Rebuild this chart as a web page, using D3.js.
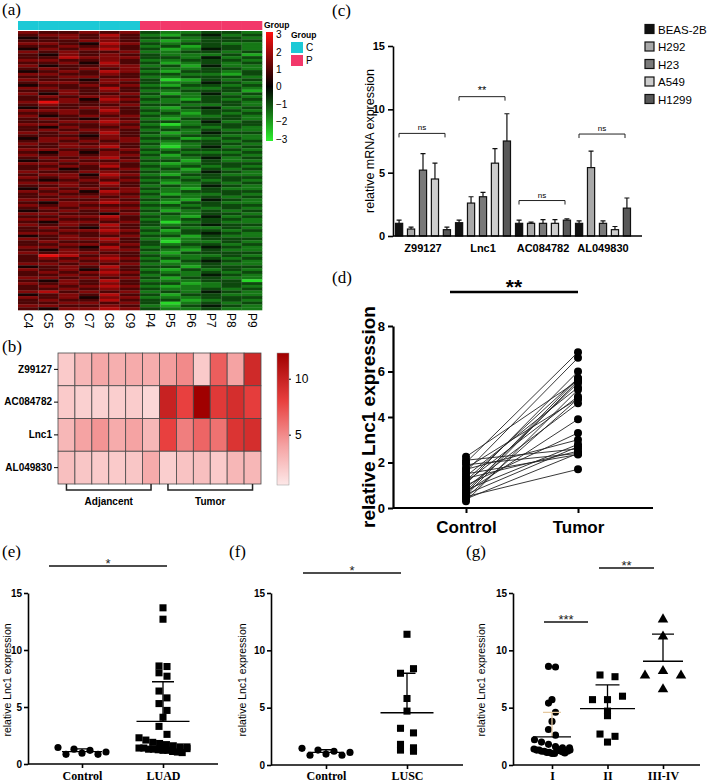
<!DOCTYPE html>
<html>
<head>
<meta charset="utf-8">
<script src="https://cdn.jsdelivr.net/npm/d3@7"></script>
<style>
  body { margin: 0; background: #fff; }
  svg { display: block; font-family: "Liberation Sans", Arial, sans-serif; }
  .plab { font-family: "Liberation Serif", "Times New Roman", serif; font-size: 17px; }
  .serif { font-family: "Liberation Serif", "Times New Roman", serif; font-weight: bold; }
</style>
</head>
<body>
<div id="fig"></div>
<script>
// ---- (a) heatmap data: each row a string of 12 level digits (see heatLevels)
const heatCols = ["C4", "C5", "C6", "C7", "C8", "C9", "P4", "P5", "P6", "P7", "P8", "P9"];
const heatGroups = ["C", "C", "C", "C", "C", "C", "P", "P", "P", "P", "P", "P"];
const heatLevels = [-2.7, -2.1, -1.5, -0.9, -0.3, 0.3, 0.9, 1.5, 2.1, 2.7];
const heatRows = [
  "766767322332", "677686213423", "567676332332", "666776212333", "776587323322",
  "667676231332", "576786312432", "767667223323", "657676322231", "668777332423",
  "776676223332", "667586312323", "756677231422", "676767322332", "567687213323",
  "776676332213", "667766223332", "766577301323", "677676322432", "566767213323",
  "776686332232", "667676223331", "757667312423", "676776232332", "667587321323",
  "797676223332", "676667332232", "566776213423", "777686322332", "667676231323",
  "756767322232", "676576213332", "667787332423", "776676202333", "657667323232",
  "676776232322", "767686312433", "666576223322", "577677331232", "676767223323",
  "767676312332", "667786202423", "776667323332", "657576232223", "767677313332",
  "676786222423", "567667331322", "776776212333", "667686323232", "675667231323",
  "766776322432", "677587213322", "767676332333", "656767223232", "777686312323",
  "667676232432", "576767321322", "767587223333", "676676312232", "667767232323",
  "776676321432", "657787213322", "767666332333", "676777223232", "567676312323",
  "776657232332", "667786321423", "776676223332", "657767302322", "767686323433",
  "676576232232", "667787313323", "776676223432", "567667331322", "767786212333",
  "676676302232", "667767323323", "776586232432", "657677321322", "767766213333",
  "698676322232", "676787232323", "667676313432", "776767222322", "567686331333",
  "767576213232", "676787322323", "667676232432", "776767313322", "657686222330",
  "767676331233", "676787212232", "667676322323", "786767232432", "567686313322",
  "767577222333", "676686331232", "667767302323", "776676213432", "657787322322"
];
const groupColor = { C: "#1cc9d6", P: "#f2386a" };
const heatLegendTicks = [3, 2, 1, 0, -1, -2, -3];

// ---- (b) tissue heatmap
const genes = ["Z99127", "AC084782", "Lnc1", "AL049830"];
const tissueGroups = ["Adjancent", "Tumor"];
const tissueValues = [
  [2.0, 3.0, 3.8, 3.4, 3.6, 3.5, 4.2, 5.0, 2.0, 6.8, 4.0, 9.5],
  [2.0, 1.7, 1.6, 1.8, 1.9, 1.4, 10.0, 8.0, 12.3, 8.5, 9.2, 8.2],
  [3.0, 4.0, 4.6, 3.6, 4.0, 3.0, 8.0, 5.5, 6.5, 6.0, 8.8, 9.2],
  [2.6, 2.2, 2.0, 2.0, 2.2, 3.6, 1.8, 2.4, 2.6, 2.0, 3.0, 3.0]
];
const tissueTicks = [5, 10];

// ---- (c) bar chart
const cellLines = ["BEAS-2B", "H292", "H23", "A549", "H1299"];
const barGenes = ["Z99127", "Lnc1", "AC084782", "AL049830"];
const barMeans = [
  [1.0, 0.55, 5.2, 4.5, 0.5],
  [1.05, 2.6, 3.1, 5.75, 7.5],
  [1.0, 1.0, 1.0, 1.0, 1.25],
  [1.0, 5.4, 1.0, 0.5, 2.2]
];
const barErrors = [
  [0.25, 0.15, 1.3, 1.25, 0.2],
  [0.2, 0.5, 0.35, 1.15, 2.15],
  [0.25, 0.1, 0.3, 0.3, 0.1],
  [0.2, 1.3, 0.2, 0.25, 0.8]
];
const barSigText = ["ns", "**", "ns", "ns"];
const barSigLevel = [8.1, 11.0, 2.8, 8.05];
const barTicks = [0, 5, 10, 15];

// ---- (d) paired samples
const pairCats = ["Control", "Tumor"];
const pairControl = [2.25, 2.1, 2.0, 1.9, 1.75, 1.7, 1.6, 1.5, 1.4, 1.3, 1.2, 1.15, 1.05,
                     1.0, 0.9, 0.8, 0.75, 0.7, 0.65, 0.6, 0.55, 0.5, 0.45, 0.4, 0.3];
const pairTumor = [5.6, 2.6, 6.85, 2.4, 4.8, 3.0, 6.6, 2.35, 5.3, 2.5, 5.7, 4.9, 6.0,
                   3.3, 4.6, 2.8, 5.5, 3.9, 5.7, 2.7, 5.6, 1.7, 4.8, 2.4, 5.2];
const pairTicks = [0, 2, 4, 6, 8];

// ---- (e) (f) (g) scatter dot plots
const eCats = ["Control", "LUAD"];
const eControl = [1.45, 0.85, 1.3, 0.95, 1.2, 0.85, 1.05];
const eLUAD = [13.7, 12.7, 8.6, 8.55, 8.0, 7.7, 6.4, 5.8, 5.3, 4.7, 4.1, 3.3, 2.6, 2.3, 2.1, 1.9,
               1.8, 1.7, 1.6, 1.5, 1.5, 1.4, 1.4, 1.3, 1.3, 1.25, 1.2, 1.2, 1.1, 1.05, 1.0, 1.35];
const fCats = ["Control", "LUSC"];
const fControl = [1.45, 0.85, 1.3, 0.95, 1.2, 0.85, 1.1];
const fLUSC = [11.4, 8.0, 8.4, 5.8, 4.7, 3.2, 2.8, 1.8, 1.5, 1.3, 1.2];
const gCats = ["I", "II", "III-IV"];
const gStageI = [8.6, 8.55, 5.7, 5.4, 4.6, 3.8, 3.1, 2.6, 2.2, 2.0, 1.8, 1.6, 1.5, 1.5, 1.4,
                 1.3, 1.3, 1.2, 1.2, 1.1, 1.1, 1.0, 1.0, 1.4, 1.25, 1.15, 1.05, 1.2, 1.3];
const gStageII = [7.85, 7.7, 5.7, 5.7, 6.0, 4.7, 4.3, 2.7, 2.5, 2.0];
const gStageIII = [12.7, 11.2, 7.8, 8.2, 7.8, 6.6];
const dotTicks = [0, 5, 10, 15];

const W = 709, H = 784;
const svg = d3.select("#fig").append("svg").attr("width", W).attr("height", H);
svg.append("rect").attr("width", W).attr("height", H).attr("fill", "#fff");
const defs = svg.append("defs");

function panelLabel(t, x, y) {
  svg.append("text").attr("class", "plab").attr("x", x).attr("y", y).text(t);
}

// ================= (a)
function panelA() {
  const g = svg.append("g");
  const x = d3.scaleBand().domain(heatCols).range([18, 262]);
  const y = d3.scaleBand().domain(d3.range(heatRows.length)).range([31, 310]);
  const color = d3.scaleLinear().domain([-3, 0, 3]).range(["#2cf02c", "#000000", "#ff1010"]).clamp(true);

  const cells = [];
  heatRows.forEach((row, r) => row.split("").forEach((ch, c) => {
    cells.push({ r: r, col: heatCols[c], v: heatLevels[+ch] });
  }));
  g.selectAll("rect.cell").data(cells).join("rect").attr("class", "cell")
    .attr("x", d => x(d.col)).attr("y", d => y(d.r))
    .attr("width", x.bandwidth() + 0.3).attr("height", y.bandwidth() + 0.3)
    .attr("fill", d => color(d.v));
  g.selectAll("line.sep").data(heatCols.slice(1)).join("line").attr("class", "sep")
    .attr("x1", d => x(d)).attr("x2", d => x(d)).attr("y1", 31).attr("y2", 310)
    .attr("stroke", "#999").attr("stroke-opacity", 0.35).attr("stroke-width", 0.7);

  // group annotation bar
  g.selectAll("rect.grp").data(heatCols).join("rect").attr("class", "grp")
    .attr("x", d => x(d)).attr("y", 21).attr("width", x.bandwidth() + 0.3).attr("height", 9)
    .attr("fill", (d, i) => groupColor[heatGroups[i]]);
  g.append("text").attr("x", 264).attr("y", 28).attr("font-size", 8.5).attr("font-weight", "bold").text("Group");

  // column labels
  g.selectAll("text.col").data(heatCols).join("text").attr("class", "col")
    .attr("transform", d => `translate(${x(d) + x.bandwidth() / 2},313) rotate(90)`)
    .attr("dy", "0.35em").attr("font-size", 12).text(d => d);

  // colour legend
  const grad = defs.append("linearGradient").attr("id", "gradA")
    .attr("x1", 0).attr("x2", 0).attr("y1", 0).attr("y2", 1);
  [3, 1.5, 0, -1.5, -3].forEach(v => {
    grad.append("stop").attr("offset", (3 - v) / 6).attr("stop-color", color(v));
  });
  const ly = d3.scaleLinear().domain([-3, 3]).range([139, 34.5]);
  g.append("rect").attr("x", 266).attr("y", 32).attr("width", 7).attr("height", 109).attr("fill", "url(#gradA)");
  const lax = g.append("g").attr("transform", "translate(273,0)")
    .call(d3.axisRight(ly).tickValues(heatLegendTicks).tickFormat(d3.format("d")).tickSize(0).tickPadding(3));
  lax.select(".domain").remove();
  lax.selectAll("text").attr("font-size", 10).attr("font-family", "Liberation Sans, Arial");

  // group legend
  g.append("text").attr("x", 291).attr("y", 38).attr("font-size", 8.5).attr("font-weight", "bold").text("Group");
  const gk = ["C", "P"];
  g.selectAll("rect.gk").data(gk).join("rect").attr("class", "gk")
    .attr("x", 291).attr("y", (d, i) => 42 + i * 13).attr("width", 12).attr("height", 11)
    .attr("fill", d => groupColor[d]);
  g.selectAll("text.gk").data(gk).join("text").attr("class", "gk")
    .attr("x", 306).attr("y", (d, i) => 51 + i * 13).attr("font-size", 10).text(d => d);
}

// ================= (b)
function panelB() {
  const g = svg.append("g");
  const x = d3.scaleBand().domain(d3.range(12)).range([58, 261]);
  const y = d3.scaleBand().domain(genes).range([353, 484]);
  const stops = [0.5, 4, 8, 12.3];
  const color = d3.scaleLinear().domain(stops).range(["#fde8e8", "#f5a3a3", "#e8403f", "#a00000"]);

  const cells = [];
  tissueValues.forEach((row, r) => row.forEach((v, c) => cells.push({ gene: genes[r], c: c, v: v })));
  g.selectAll("rect.cell").data(cells).join("rect").attr("class", "cell")
    .attr("x", d => x(d.c)).attr("y", d => y(d.gene))
    .attr("width", x.bandwidth()).attr("height", y.bandwidth())
    .attr("fill", d => color(d.v)).attr("stroke", "#4a4a4a").attr("stroke-width", 0.8);

  const ax = g.append("g").attr("transform", "translate(58,0)")
    .call(d3.axisLeft(y).tickSize(4).tickPadding(2));
  ax.select(".domain").remove();
  ax.selectAll("text").attr("font-size", 10).attr("font-weight", "bold").attr("font-family", "Liberation Sans, Arial");

  // group brackets
  tissueGroups.forEach((name, i) => {
    const x1 = x(i * 6) + x.bandwidth() / 2, x2 = x(i * 6 + 5) + x.bandwidth() / 2;
    g.append("path").attr("d", `M${x1},484V490H${x2}V484`).attr("fill", "none")
      .attr("stroke", "#222").attr("stroke-width", 1.5);
    g.append("text").attr("x", (x1 + x2) / 2).attr("y", 505).attr("text-anchor", "middle")
      .attr("font-size", 10).attr("font-weight", "bold").text(name);
  });

  // colour bar
  const grad = defs.append("linearGradient").attr("id", "gradB")
    .attr("x1", 0).attr("x2", 0).attr("y1", 1).attr("y2", 0);
  stops.forEach(v => grad.append("stop").attr("offset", (v - 0.5) / 11.8).attr("stop-color", color(v)));
  const ly = d3.scaleLinear().domain([0.5, 12.3]).range([485, 353]);
  g.append("rect").attr("x", 277).attr("y", 353).attr("width", 12).attr("height", 132)
    .attr("fill", "url(#gradB)").attr("stroke", "#999").attr("stroke-width", 0.5);
  const lax = g.append("g").attr("transform", "translate(289,0)")
    .call(d3.axisRight(ly).tickValues(tissueTicks).tickSize(2).tickPadding(4));
  lax.select(".domain").remove();
  lax.selectAll("text").attr("font-size", 12).attr("font-family", "Liberation Sans, Arial");
}

// ================= (c)
function panelC() {
  const g = svg.append("g");
  const x0 = d3.scaleBand().domain(barGenes).range([393, 633]);
  const x1 = d3.scaleBand().domain(cellLines).range([2.5, 57.5]).paddingInner(0.4);
  const y = d3.scaleLinear().domain([0, 15]).range([236, 46]);
  const fills = d3.scaleOrdinal().domain(cellLines).range(["#111111", "#a8a8a8", "#7a7a7a", "#cdcdcd", "#585858"]);

  const bars = [];
  barGenes.forEach((gene, i) => cellLines.forEach((c, j) => {
    bars.push({ gene: gene, line: c, m: barMeans[i][j], e: barErrors[i][j] });
  }));
  const bx = d => x0(d.gene) + x1(d.line);
  // error bars (upper)
  g.selectAll("path.err").data(bars).join("path").attr("class", "err")
    .attr("d", d => {
      const cx = bx(d) + x1.bandwidth() / 2;
      return `M${cx},${y(d.m)}V${y(d.m + d.e)}M${cx - 2.5},${y(d.m + d.e)}H${cx + 2.5}`;
    })
    .attr("stroke", "#111").attr("stroke-width", 1.2).attr("fill", "none");
  g.selectAll("rect.bar").data(bars).join("rect").attr("class", "bar")
    .attr("x", bx).attr("y", d => y(d.m))
    .attr("width", x1.bandwidth()).attr("height", d => y(0) - y(d.m))
    .attr("fill", d => fills(d.line)).attr("stroke", "#111").attr("stroke-width", 1.2);

  // axes
  const ay = g.append("g").attr("transform", "translate(393,0)")
    .call(d3.axisLeft(y).tickValues(barTicks).tickSize(5).tickSizeOuter(0));
  ay.select(".domain").attr("stroke-width", 1.6);
  ay.selectAll("line").attr("stroke-width", 1.6);
  ay.selectAll("text").attr("font-size", 11).attr("font-weight", "bold").attr("font-family", "Liberation Sans, Arial");
  g.append("line").attr("x1", 393).attr("x2", 642).attr("y1", y(0)).attr("y2", y(0))
    .attr("stroke", "#000").attr("stroke-width", 1.6);
  g.selectAll("text.grp").data(barGenes).join("text").attr("class", "grp")
    .attr("x", d => x0(d) + x0.bandwidth() / 2).attr("y", 252).attr("text-anchor", "middle")
    .attr("font-size", 11).attr("font-weight", "bold").text(d => d);
  g.append("text").attr("transform", "translate(374,141) rotate(-90)").attr("text-anchor", "middle")
    .attr("font-size", 12.5).text("relative mRNA expression");

  // significance brackets
  barGenes.forEach((gene, i) => {
    const c = x0(gene) + x0.bandwidth() / 2;
    const yy = y(barSigLevel[i]);
    g.append("path").attr("d", `M${c - 24},${yy + 4}V${yy}H${c + 22}V${yy + 4}`)
      .attr("fill", "none").attr("stroke", "#222").attr("stroke-width", 1);
    g.append("text").attr("x", c - 1).attr("y", yy - 3).attr("text-anchor", "middle")
      .attr("font-size", barSigText[i] === "ns" ? 8 : 11).attr("fill", "#000").text(barSigText[i]);
  });

  // legend
  const lg = g.selectAll("g.leg").data(cellLines).join("g").attr("class", "leg")
    .attr("transform", (d, i) => `translate(645,${29 + i * 17.5})`);
  lg.append("rect").attr("x", 0).attr("y", -4.5).attr("width", 9).attr("height", 9)
    .attr("fill", d => fills(d)).attr("stroke", "#111").attr("stroke-width", 1.2);
  lg.append("text").attr("x", 13).attr("y", 4.5).attr("font-size", 11.5).text(d => d);
}

// ================= (d)
function panelD() {
  const g = svg.append("g");
  const x = d3.scalePoint().domain(pairCats).range([466, 578]);
  const y = d3.scaleLinear().domain([0, 8]).range([508, 326]);
  const pairs = pairControl.map((c, i) => [c, pairTumor[i]]);

  g.selectAll("line.pair").data(pairs).join("line").attr("class", "pair")
    .attr("x1", x("Control")).attr("x2", x("Tumor"))
    .attr("y1", d => y(d[0])).attr("y2", d => y(d[1]))
    .attr("stroke", "#222").attr("stroke-width", 0.9);
  g.selectAll("circle.c").data(pairControl).join("circle").attr("class", "c")
    .attr("cx", x("Control")).attr("cy", d => y(d)).attr("r", 4).attr("fill", "#000");
  g.selectAll("circle.t").data(pairTumor).join("circle").attr("class", "t")
    .attr("cx", x("Tumor")).attr("cy", d => y(d)).attr("r", 4).attr("fill", "#000");

  const ay = g.append("g").attr("transform", "translate(393,0)")
    .call(d3.axisLeft(y).tickValues(pairTicks).tickSize(5).tickSizeOuter(0));
  ay.select(".domain").attr("stroke-width", 2.2);
  ay.selectAll("line").attr("stroke-width", 2);
  ay.selectAll("text").attr("font-size", 13).attr("font-weight", "bold").attr("font-family", "Liberation Sans, Arial");
  const ax = g.append("g").attr("transform", `translate(0,${y(0)})`)
    .call(d3.axisBottom(x).tickSize(5).tickSizeOuter(0).tickPadding(8));
  ax.select(".domain").attr("d", `M393,0H653`).attr("stroke-width", 2.2);
  ax.selectAll("line").attr("stroke-width", 2);
  ax.selectAll("text").attr("font-size", 17).attr("font-weight", "bold").attr("font-family", "Liberation Sans, Arial");

  g.append("text").attr("transform", "translate(375,417) rotate(-90)").attr("text-anchor", "middle")
    .attr("font-size", 19).attr("font-weight", "bold").text("relative Lnc1 expression");

  g.append("line").attr("x1", 450).attr("x2", 578).attr("y1", 292).attr("y2", 292)
    .attr("stroke", "#000").attr("stroke-width", 2.5);
  g.append("text").attr("x", 514).attr("y", 294).attr("text-anchor", "middle")
    .attr("font-size", 21).attr("font-weight", "bold").text("**");
}

// ================= (e)(f)(g)
function swarm(vals, step, maxW) {
  const bins = d3.group(vals.map(v => ({ v: v })), d => Math.round(d.v));
  const out = [];
  for (const [, arr] of bins) {
    const n = arr.length;
    const s = n > 1 ? Math.min(step, maxW / (n - 1)) : 0;
    arr.forEach((d, k) => out.push({ v: d.v, dx: (k - (n - 1) / 2) * s }));
  }
  return out;
}

function dotPanel(o) {
  const g = svg.append("g");
  const x = d3.scalePoint().domain(o.cats).range(o.xr);
  const y = d3.scaleLinear().domain([0, 15]).range([o.y0, 593]);

  o.groups.forEach((vals, i) => {
    const cx = x(o.cats[i]);
    const pts = swarm(vals, o.step[i], o.maxW[i]);
    const shape = o.shape[i];
    const sym = d3.symbol().type(shape === "circle" ? d3.symbolCircle :
      shape === "square" ? d3.symbolSquare : d3.symbolTriangle)
      .size(shape === "circle" ? 40 : shape === "square" ? 50 : 48);
    g.selectAll(null).data(pts).join("path")
      .attr("transform", d => `translate(${cx + d.dx},${y(d.v)})`)
      .attr("d", sym).attr("fill", "#000");

    const m = d3.mean(vals), sd = d3.deviation(vals);
    const sdColor = o.sdColor ? o.sdColor[i] : "#000";
    g.append("path")
      .attr("d", `M${cx},${y(m)}V${y(m + sd)}M${cx - o.capW[i] / 2},${y(m + sd)}H${cx + o.capW[i] / 2}`)
      .attr("stroke", sdColor).attr("stroke-width", 1.3).attr("fill", "none");
    g.append("line").attr("x1", cx - o.meanW[i] / 2).attr("x2", cx + o.meanW[i] / 2)
      .attr("y1", y(m)).attr("y2", y(m)).attr("stroke", "#000").attr("stroke-width", 1.3);
  });

  const ay = g.append("g").attr("transform", `translate(${o.ax},0)`)
    .call(d3.axisLeft(y).tickValues(dotTicks).tickSize(4).tickSizeOuter(0).tickPadding(2));
  ay.select(".domain").attr("stroke-width", 1.6);
  ay.selectAll("line").attr("stroke-width", 1.6);
  ay.selectAll("text").attr("font-size", 10).attr("font-weight", "bold").attr("font-family", "Liberation Sans, Arial");
  const ax = g.append("g").attr("transform", `translate(0,${o.y0})`)
    .call(d3.axisBottom(x).tickSize(4).tickSizeOuter(0).tickPadding(0));
  ax.select(".domain").attr("d", `M${o.ax},0H${o.axEnd}`).attr("stroke-width", 1.6);
  ax.selectAll("line").attr("stroke-width", 1.6);
  // baseline kept inside the page (about y = 780)
  ax.selectAll("text").attr("class", "serif").attr("font-size", 12)
    .attr("y", 780 - o.y0).attr("dy", 0);

  g.append("text").attr("transform", `translate(${o.labX},680) rotate(-90)`).attr("text-anchor", "middle")
    .attr("font-size", 10.5).text("relative Lnc1 expression");

  o.sig.forEach(s => {
    g.append("line").attr("x1", s.x1).attr("x2", s.x2).attr("y1", s.y).attr("y2", s.y)
      .attr("stroke", "#111").attr("stroke-width", 1.6);
    g.append("text").attr("x", (s.x1 + s.x2) / 2).attr("y", s.y + 2).attr("text-anchor", "middle")
      .attr("font-size", 13).attr("fill", "#222").text(s.t);
  });
}

panelA();
panelB();
panelC();
panelD();

dotPanel({
  cats: eCats, groups: [eControl, eLUAD], xr: [82, 163], y0: 764, ax: 28, axEnd: 218, labX: 11,
  shape: ["circle", "square"], step: [8, 8], maxW: [48, 48], meanW: [40, 53], capW: [22, 22],
  sig: [{ x1: 49, x2: 167, y: 566, t: "*" }]
});
dotPanel({
  cats: fCats, groups: [fControl, fLUSC], xr: [326, 407], y0: 765, ax: 271, axEnd: 463, labX: 246,
  shape: ["circle", "square"], step: [8, 13], maxW: [48, 30], meanW: [36, 53], capW: [22, 17],
  sig: [{ x1: 303, x2: 401, y: 573, t: "*" }]
});
dotPanel({
  cats: gCats, groups: [gStageI, gStageII, gStageIII], xr: [552, 663], y0: 765, ax: 513, axEnd: 700, labX: 485,
  shape: ["circle", "square", "triangle"], step: [7, 15, 18], maxW: [36, 30, 40], meanW: [38, 55, 40], capW: [18, 24, 22],
  sdColor: ["#e6c9a0", "#000", "#000"],
  sig: [{ x1: 599, x2: 654, y: 568, t: "**" }, { x1: 544, x2: 588, y: 622, t: "***" }]
});

panelLabel("(a)", 2, 15);
panelLabel("(b)", 2, 352);
panelLabel("(c)", 332, 16);
panelLabel("(d)", 332, 283);
panelLabel("(e)", 2, 557);
panelLabel("(f)", 229, 557);
panelLabel("(g)", 466, 557);
</script>
</body>
</html>
